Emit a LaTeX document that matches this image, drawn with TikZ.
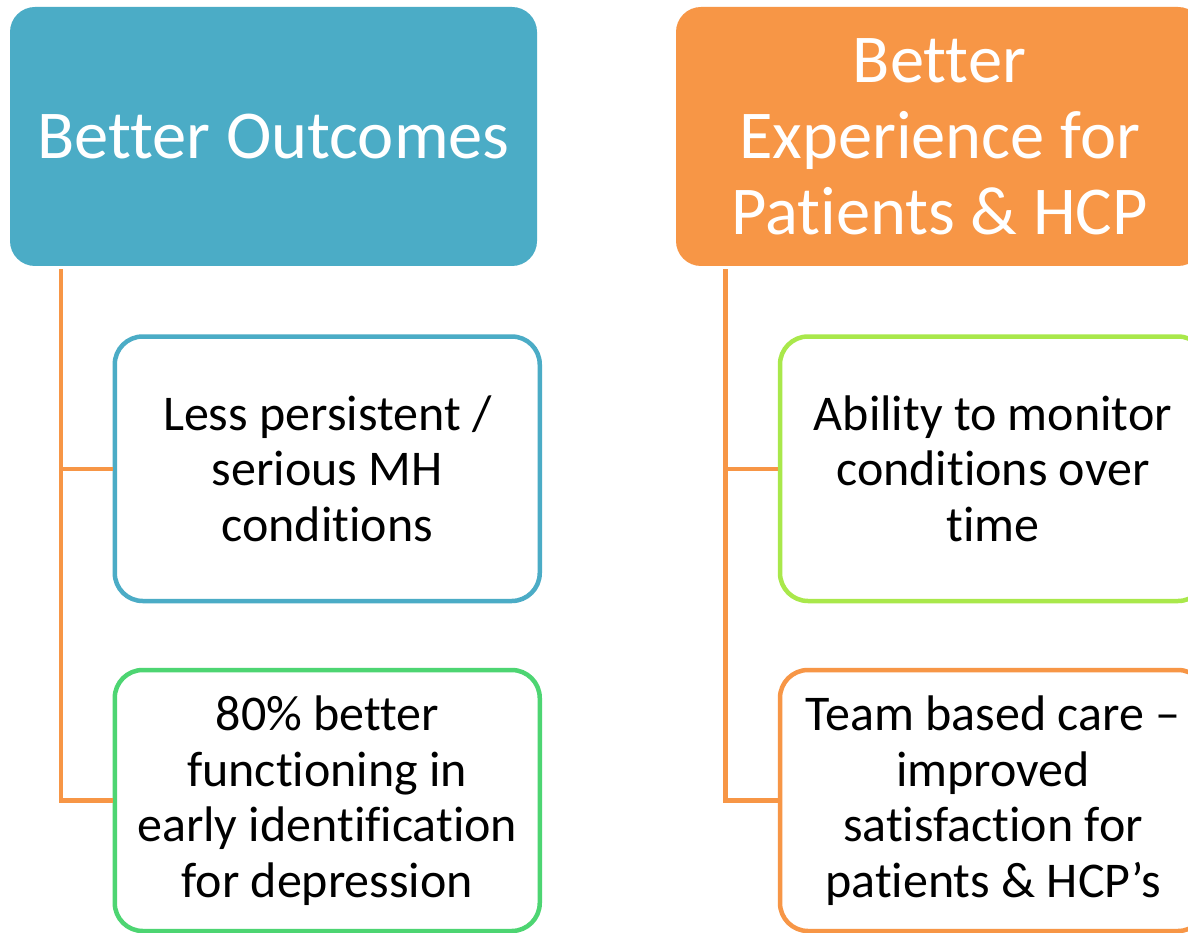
\documentclass[tikz,border=0pt]{standalone}
\usepackage{fontspec}
\setmainfont{Carlito}[RawFeature={-liga;-clig;-calt;-dlig}]
\definecolor{cblue}{HTML}{4BACC6}
\definecolor{corange}{HTML}{F79646}
\definecolor{cgreen}{HTML}{4DD572}
\definecolor{clime}{HTML}{A9E84B}
\tikzset{
  header/.style={rectangle, rounded corners=25pt, minimum width=527pt, minimum height=259pt,
    text=white, align=center, inner sep=0pt, font=\fontsize{68.5}{76}\selectfont},
  child/.style={rectangle, rounded corners=28pt, line width=4.5pt, fill=white,
    minimum width=425pt, align=center, inner sep=0pt, text=black,
    font=\fontsize{50}{55.5}\selectfont},
  conn/.style={draw=corange, line width=4.5pt}
}
\begin{document}
\begin{tikzpicture}[x=1pt,y=-1pt]
\useasboundingbox (0,0) rectangle (1188,933);
\clip (0,0) rectangle (1188,933);
\fill[white] (0,0) rectangle (1188,933);
\node[header, fill=cblue] (lh) at (273.5,136.5) {Better Outcomes};
\node[header, fill=corange] (rh) at (939.5,136.5) {Better\\Experience for\\Patients \& HCP};
\node[child, draw=cblue, minimum height=264.5pt] (b1) at (327.25,468.75) {Less persistent /\\serious MH\\conditions};
\node[child, draw=cgreen, minimum height=261pt] (b2) at (327.25,800.5) {80\% better\\functioning in\\early identification\\for depression};
\node[child, draw=clime, minimum width=426pt, minimum height=264.5pt] (b3) at (993,468.75) {Ability to monitor\\conditions over\\time};
\node[child, draw=corange, minimum width=426pt, minimum height=261pt] (b4) at (993,800.5) {Team based care –\\improved\\satisfaction for\\patients \& HCP’s};
\coordinate (lt) at ([shift={(51pt,-3pt)}]lh.south west);
\coordinate (rt) at ([shift={(49.5pt,-3pt)}]rh.south west);
\draw[conn] (lt) |- (b2.west);
\draw[conn] (lt) |- (b1.west);
\draw[conn] (rt) |- (b4.west);
\draw[conn] (rt) |- (b3.west);
\end{tikzpicture}
\end{document}
